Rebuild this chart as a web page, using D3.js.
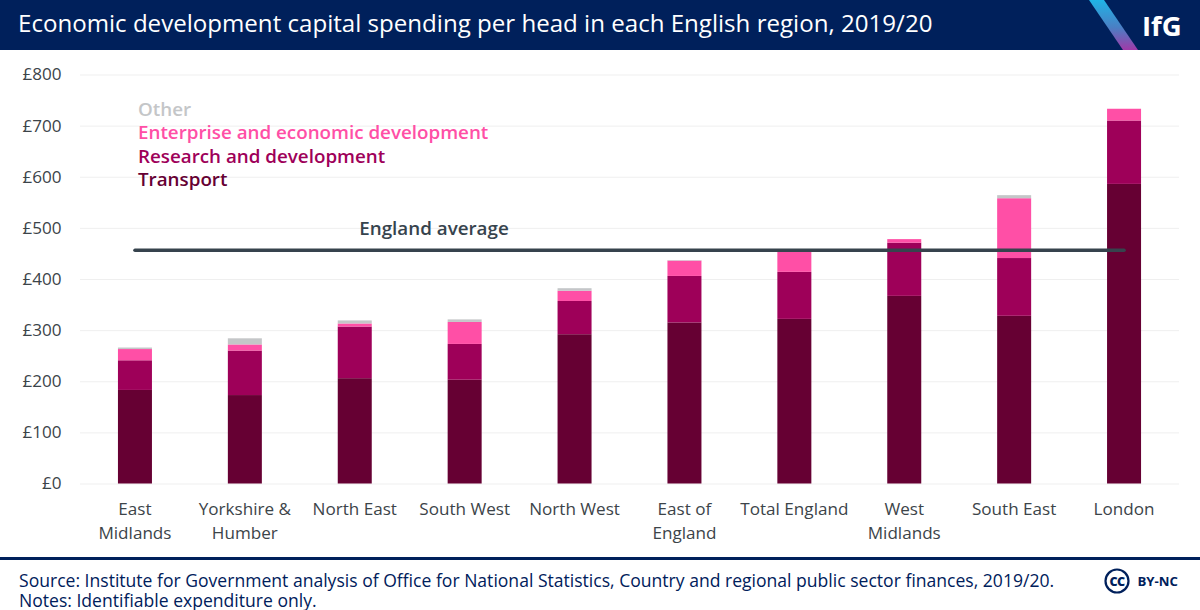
<!DOCTYPE html>
<html lang="en">
<head>
  <title>Economic development capital spending</title>
  <meta charset="UTF-8">
  <script src="https://cdn.jsdelivr.net/npm/d3@7"></script>
  <style>
  html, body { margin: 0; padding: 0; background: #fff; }
  svg { display: block; font-family: "Open Sans", sans-serif; }
  .axis path, .axis line { display: none; }
  .axis text { font-size: 17.1px; fill: #3c4449; font-family: "Open Sans", sans-serif; }
  .grid line { stroke: #efefef; stroke-width: 1px; }
  .grid path { display: none; }
  .legend text { font-size: 18.8px; font-weight: 600; }
  </style>
</head>
<body>
<div id="chart"></div>
<script>
const regions = ['East Midlands', 'Yorkshire & Humber', 'North East', 'South West', 'North West',
  'East of England', 'Total England', 'West Midlands', 'South East', 'London'];
const transport = [183, 173, 206, 203, 292, 315, 322, 367, 328, 586];
const research = [58, 87, 101, 70, 65, 91, 92, 104, 113, 124];
const enterprise = [22, 12, 6, 43, 20, 30, 39, 7, 117, 23];
const other = [3, 12, 6, 5, 5, 1, 0, 0, 6, 0];
const englandAverage = 456;
const yTicks = [0, 100, 200, 300, 400, 500, 600, 700, 800];
const seriesNames = ['Transport', 'Research and development', 'Enterprise and economic development', 'Other'];
const seriesColors = ['#660033', '#9e0059', '#ff4fa6', '#c4c6c8'];
const legendOrder = [3, 2, 1, 0];

const width = 1200, height = 610;
const margin = {top: 74.5, right: 21, bottom: 126.5, left: 80};
const navy = '#00205b';

const svg = d3.select('#chart').append('svg')
  .attr('width', width).attr('height', height);

const defs = svg.append('defs');
const grad = defs.append('linearGradient').attr('id', 'stripe')
  .attr('x1', 0).attr('y1', 0).attr('x2', 0).attr('y2', 1);
grad.append('stop').attr('offset', '0%').attr('stop-color', '#1fb4e6');
grad.append('stop').attr('offset', '55%').attr('stop-color', '#4a7fc4');
grad.append('stop').attr('offset', '100%').attr('stop-color', '#a03aa8');

// Header
svg.append('rect').attr('width', width).attr('height', 50).attr('fill', navy);
svg.append('path').attr('d', 'M1089,0 L1104,0 L1138,50 L1123,50 Z').attr('fill', 'url(#stripe)');
svg.append('text').attr('x', 18).attr('y', 32)
  .attr('fill', '#fff').attr('font-size', 24.1).attr('font-weight', 500)
  .text('Economic development capital spending per head in each English region, 2019/20');
svg.append('text').attr('x', 1142).attr('y', 35.5)
  .attr('fill', '#fff').attr('font-size', 27.5).attr('font-weight', 700)
  .text('IfG');

// Scales
const x = d3.scaleBand().domain(regions)
  .range([margin.left, width - margin.right]);
const y = d3.scaleLinear().domain([0, 800])
  .range([height - margin.bottom, margin.top]);
const barWidth = 34;
const cx = d => x(d) + x.bandwidth() / 2;

// Grid
svg.append('g').attr('class', 'grid')
  .attr('transform', `translate(${margin.left},0)`)
  .call(d3.axisLeft(y).tickValues(yTicks).tickSize(-(width - margin.left - margin.right)).tickFormat(''));

// Bars
const table = regions.map((r, i) => ({region: r, s0: transport[i], s1: research[i], s2: enterprise[i], s3: other[i]}));
const stack = d3.stack().keys(['s0', 's1', 's2', 's3'])(table);
svg.append('g').selectAll('g').data(stack).join('g')
    .attr('fill', (d, i) => seriesColors[i])
  .selectAll('rect').data(d => d).join('rect')
    .attr('x', d => cx(d.data.region) - barWidth / 2)
    .attr('width', barWidth)
    .attr('y', d => y(d[1]))
    .attr('height', d => y(d[0]) - y(d[1]));

// Axes
svg.append('g').attr('class', 'axis')
  .attr('transform', `translate(${margin.left - 15.5},0)`)
  .call(d3.axisLeft(y).tickValues(yTicks).tickSize(0).tickFormat(d => '£' + d));

const xAxis = svg.append('g').attr('class', 'axis')
  .attr('transform', `translate(0,${height - margin.bottom})`)
  .call(d3.axisBottom(x).tickSize(0).tickFormat(''));
const wrapped = {
  'East Midlands': ['East', 'Midlands'],
  'Yorkshire & Humber': ['Yorkshire &', 'Humber'],
  'East of England': ['East of', 'England'],
  'West Midlands': ['West', 'Midlands']
};
xAxis.selectAll('.tick text').each(function(d) {
  const t = d3.select(this).text(null).attr('y', 0).attr('dy', null);
  (wrapped[d] || [d]).forEach((line, i) => {
    t.append('tspan').attr('x', 0).attr('y', 31.5 + i * 23.5).text(line);
  });
});

// England average
svg.append('line')
  .attr('x1', cx(regions[0])).attr('x2', cx(regions[regions.length - 1]))
  .attr('y1', y(englandAverage)).attr('y2', y(englandAverage))
  .attr('stroke', '#36434d').attr('stroke-width', 3.5).attr('stroke-linecap', 'round');
svg.append('text').attr('x', 434).attr('y', 235).attr('text-anchor', 'middle')
  .attr('font-size', 18.8).attr('font-weight', 600).attr('fill', '#36434d')
  .text('England average');

// Legend
const legendY = d3.scalePoint().domain(legendOrder).range([116, 186]);
svg.append('g').attr('class', 'legend').selectAll('text').data(legendOrder).join('text')
  .attr('x', 138)
  .attr('y', d => legendY(d))
  .attr('fill', d => seriesColors[d])
  .text(d => seriesNames[d]);

// Footer
svg.append('rect').attr('x', 0).attr('y', 557).attr('width', width).attr('height', 3).attr('fill', navy);
const foot = svg.append('g').attr('fill', navy).attr('font-size', 17.57);
foot.append('text').attr('x', 19).attr('y', 586.5)
  .text('Source: Institute for Government analysis of Office for National Statistics, Country and regional public sector finances, 2019/20.');
foot.append('text').attr('x', 19).attr('y', 606.5)
  .text('Notes: Identifiable expenditure only.');

// CC badge
svg.append('circle').attr('cx', 1117).attr('cy', 581).attr('r', 11.5)
  .attr('fill', 'none').attr('stroke', navy).attr('stroke-width', 2.2);
svg.append('text').attr('x', 1117).attr('y', 585.5).attr('text-anchor', 'middle')
  .attr('font-size', 12.5).attr('font-weight', 800).attr('fill', navy).attr('letter-spacing', -0.5).text('CC');
svg.append('text').attr('x', 1137.5).attr('y', 586)
  .attr('font-size', 13.2).attr('font-weight', 700).attr('fill', navy).text('BY-NC');
</script>
</body>
</html>
